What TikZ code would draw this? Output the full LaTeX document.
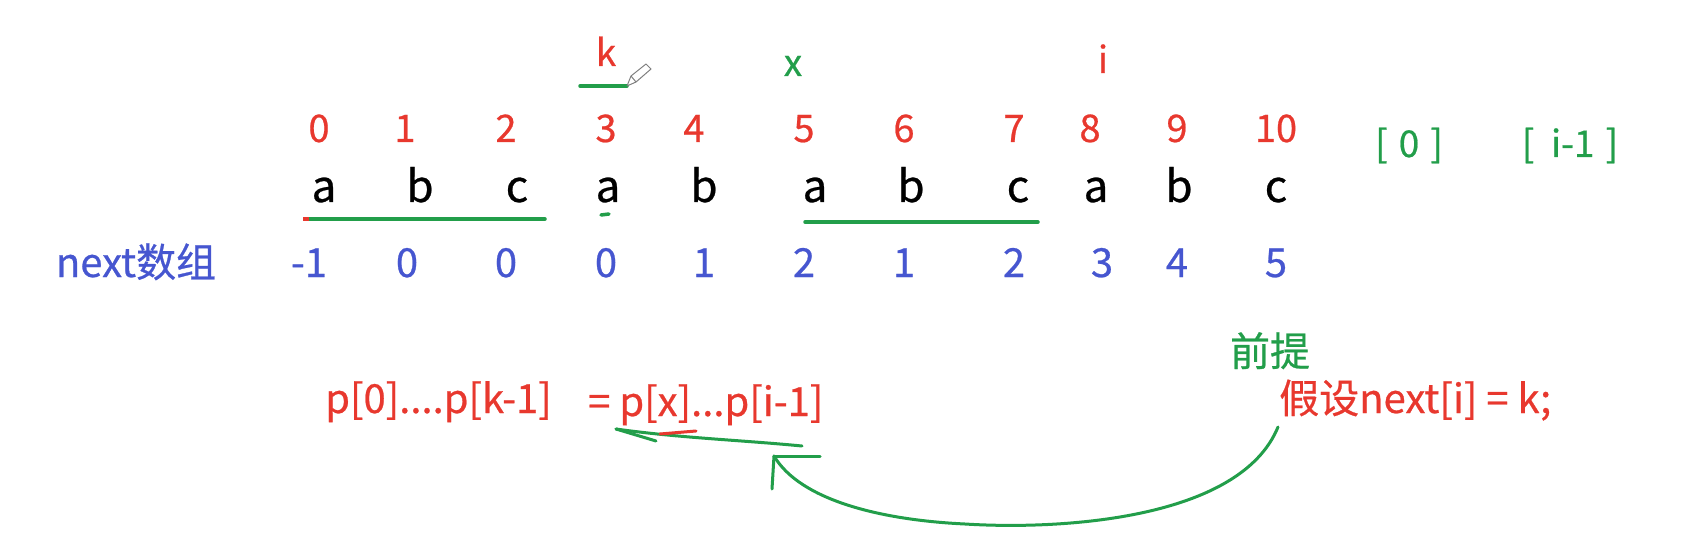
\documentclass[tikz,border=0pt]{standalone}
\usepackage{fontspec}
\setmainfont{Noto Sans CJK SC}[RawFeature={embolden=0.6}]
\definecolor{myred}{RGB}{232,56,46}
\definecolor{mygreen}{RGB}{34,158,74}
\definecolor{myblue}{RGB}{70,86,208}
\begin{document}
\begin{tikzpicture}[x=1pt,y=-1pt,
  every node/.style={inner sep=0pt,anchor=base},
  idx/.style={text=myred,font=\fontsize{38}{44}\selectfont},
  chr/.style={text=black,font=\fontsize{44}{50}\selectfont},
  nxt/.style={text=myblue,font=\fontsize{40}{46}\selectfont},
  lbl/.style={font=\fontsize{40}{46}\selectfont},
  small/.style={font=\fontsize{37}{42}\selectfont},
  pen/.style={draw=mygreen,line width=3.5pt,line cap=round,line join=round}]
\useasboundingbox[fill=white] (0,0) rectangle (1681,548);

% index row
\foreach \n/\x in {0/319,1/405,2/506,3/606,4/694,5/804,6/904,7/1014,8/1090,9/1177,10/1276}
  \node[idx] (i\n) at (\x,142) {\n};
% letters row
\foreach \n/\x/\c in {0/324/a,1/420/b,2/517/c,3/608/a,4/704/b,5/815/a,6/911/b,7/1018/c,8/1096/a,9/1179/b,10/1276/c}
  \node[chr] (c\n) at (\x,202) {\c};
% next row
\foreach \n/\x/\v in {0/309/-1,1/407/0,2/506/0,3/606/0,4/704/1,5/804/2,6/904/1,7/1014/2,8/1102/3,9/1177/4,10/1276/5}
  \node[nxt] (n\n) at (\x,277) {\v};
\node[lbl,text=myblue] (nextlbl) at (136,277) {next数组};

% top markers
\node[small,text=myred] (k) at (606,66) {k};
\node[small,text=mygreen] (x) at (793,76) {\itshape x};
\node[small,text=myred] (i) at (1103,73) {i};
\coordinate (kl) at (580,86);
\coordinate (kr) at (627,86);
\draw[pen] (kl) -- (kr);
% pencil cursor
\draw[gray,line width=1pt,line join=round] (627,86) -- (631,76) -- (646,64) -- (651,69) -- (636,82) -- cycle;
\draw[gray,line width=1pt] (631,76) -- (636,82);

% brackets on the right
\node[small,text=mygreen] (b0) at (1409,157) {[\hspace{0.3em}0\hspace{0.3em}]};
\node[small,text=mygreen] (bi) at (1570,157) {[\hspace{0.45em}i-1\hspace{0.3em}]};

% underlines
\coordinate (u1a) at (303,219);
\coordinate (u1r) at (309,219);
\coordinate (u1b) at (545,219);
\draw[pen] (u1r) -- (u1b);
\draw[draw=myred,line width=3.5pt] (u1a) -- (u1r);
\coordinate (d1) at (601,215);
\coordinate (d2) at (609,214);
\draw[pen] (d1) -- (d2);
\coordinate (u2a) at (805,222);
\coordinate (u2b) at (1038,222);
\draw[pen] (u2a) -- (u2b);

% bottom texts
\node[lbl,text=myred,anchor=base west] (lhs) at (325,413) {p[0]....p[k-1]};
\node[lbl,text=myred,anchor=base west] (rhs) at (588,416) {= p[x]...p[i-1]};
\node[lbl,text=mygreen] (pre) at (1270,366) {前提};
\node[lbl,text=myred,anchor=base west] (assume) at (1279,413) {假设next[i] = k;};

% big curved arrow
\coordinate (s) at (1278,427);
\coordinate (t) at (774,456);
\draw[pen,line width=3pt] (s) .. controls (1240,520) and (1060,530) .. (965,524)
  .. controls (880,520) and (800,500) .. (t);
\draw[pen,line width=3pt] (t) -- (772,489);
\draw[pen,line width=3pt] (t) -- (820,456);

% small arrow
\coordinate (a1) at (802,446);
\coordinate (a2) at (616,429);
\draw[pen,line width=3pt] (a1) .. controls (740,440) and (680,438) .. (a2);
\draw[pen,line width=3pt] (a2) -- (656,441);
\draw[draw=myred,line width=3pt,line cap=round] (660,434) -- (696,431);
\end{tikzpicture}
\end{document}
